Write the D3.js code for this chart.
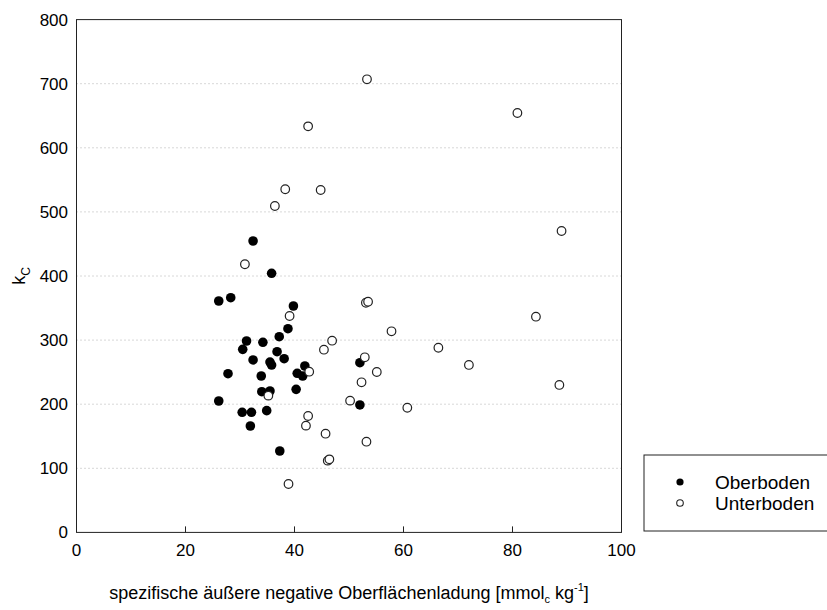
<!DOCTYPE html>
<html><head><meta charset="utf-8">
<script src="https://cdn.jsdelivr.net/npm/d3@7"></script>
<style>body{margin:0;background:#fff;} text{font-family:Arial,"Liberation Sans",sans-serif;fill:#000;}</style>
</head><body>
<svg id="c" width="827" height="610"></svg>
<script>
const oberX = [32.4,35.8,26.1,28.3,39.8,38.8,37.2,31.2,34.2,30.5,36.8,32.4,35.5,35.8,38.1,27.8,33.9,41.9,40.5,41.5,52.0,40.3,34.0,35.5,26.1,52.0,30.4,32.1,34.9,31.9,37.3];
const oberY = [454.6,404.2,361.0,366.1,353.2,317.8,305.3,298.6,296.6,285.6,281.9,269.0,265.8,261.1,271.0,247.6,244.0,259.6,248.2,244.0,264.7,223.2,219.5,220.6,205.0,198.8,187.4,187.4,189.9,166.0,127.0];
const unterX = [53.3,42.5,80.9,38.3,44.8,36.4,89.0,30.9,53.1,53.5,39.1,84.3,57.8,46.9,66.4,45.4,52.9,72.0,42.7,55.1,52.3,35.2,50.2,60.7,88.6,42.5,42.1,45.7,53.2,46.1,46.4,38.9];
const unterY = [706.9,633.5,654.3,535.3,534.2,509.2,470.2,418.3,358.3,359.9,337.6,336.5,313.7,299.1,288.1,285.0,273.2,261.2,250.7,250.2,234.2,213.3,205.5,194.5,230.0,181.6,166.5,154.0,141.5,111.9,114.0,75.5];
const xTicks = [0,20,40,60,80,100];
const yTicks = [0,100,200,300,400,500,600,700,800];
const seriesNames = ["Oberboden","Unterboden"];

const svg = d3.select("#c");
const x = d3.scaleLinear().domain([0,100]).range([76.5,621.5]);
const y = d3.scaleLinear().domain([0,800]).range([532.4,19.6]);

// gridlines
svg.append("g").selectAll("line").data(yTicks.filter(d=>d>0&&d<800)).join("line")
  .attr("x1",x(0)).attr("x2",x(100)).attr("y1",d=>y(d)).attr("y2",d=>y(d))
  .attr("stroke","#b0b0b0").attr("stroke-width",1).attr("stroke-dasharray","1,3");

// frame
svg.append("rect").attr("x",x(0)).attr("y",y(800)).attr("width",x(100)-x(0)).attr("height",y(0)-y(800))
  .attr("fill","none").attr("stroke","#222").attr("stroke-width",1);

// x ticks (inward)
svg.append("g").selectAll("line").data(xTicks.filter(d=>d>0&&d<100)).join("line")
  .attr("x1",d=>x(d)).attr("x2",d=>x(d)).attr("y1",y(0)).attr("y2",y(0)-6)
  .attr("stroke","#222");

// tick labels
svg.append("g").selectAll("text").data(xTicks).join("text")
  .attr("x",d=>x(d)).attr("y",556).attr("text-anchor","middle").attr("font-size",17).text(d=>d);
svg.append("g").selectAll("text").data(yTicks).join("text")
  .attr("x",68).attr("y",d=>y(d)+6).attr("text-anchor","end").attr("font-size",17).text(d=>d);

// axis titles
const xt = svg.append("text").attr("x",(x(0)+x(100))/2).attr("y",599).attr("text-anchor","middle").attr("font-size",18);
xt.append("tspan").text("spezifische äußere negative Oberflächenladung [mmol");
xt.append("tspan").attr("font-size",11).attr("dy",4).text("c");
xt.append("tspan").attr("dy",-4).text(" kg");
xt.append("tspan").attr("font-size",11).attr("dy",-8).text("-1");
xt.append("tspan").attr("dy",8).text("]");

const yt = svg.append("text").attr("transform","translate(25,276) rotate(-90)").attr("text-anchor","middle").attr("font-size",18);
yt.append("tspan").text("k");
yt.append("tspan").attr("font-size",12).attr("dy",5).text("C");

// points
const ober = oberX.map((v,i)=>({x:v,y:oberY[i]}));
const unter = unterX.map((v,i)=>({x:v,y:unterY[i]}));
svg.append("g").selectAll("circle").data(ober).join("circle")
  .attr("cx",d=>x(d.x)).attr("cy",d=>y(d.y)).attr("r",4.8).attr("fill","#000");
svg.append("g").selectAll("circle").data(unter).join("circle")
  .attr("cx",d=>x(d.x)).attr("cy",d=>y(d.y)).attr("r",4.3).attr("fill","#fff").attr("stroke","#222").attr("stroke-width",1.2);

// legend
const lg = svg.append("g");
lg.append("rect").attr("x",644).attr("y",455).attr("width",200).attr("height",76).attr("fill","#fff").attr("stroke","#222");
lg.append("circle").attr("cx",680).attr("cy",482).attr("r",3.6).attr("fill","#000");
lg.append("circle").attr("cx",680).attr("cy",503).attr("r",3.3).attr("fill","#fff").attr("stroke","#222").attr("stroke-width",1.1);
lg.selectAll("text.l").data(seriesNames).join("text").attr("class","l")
  .attr("x",715).attr("y",(d,i)=>489+i*21).attr("font-size",19).text(d=>d);
</script>
</body></html>
